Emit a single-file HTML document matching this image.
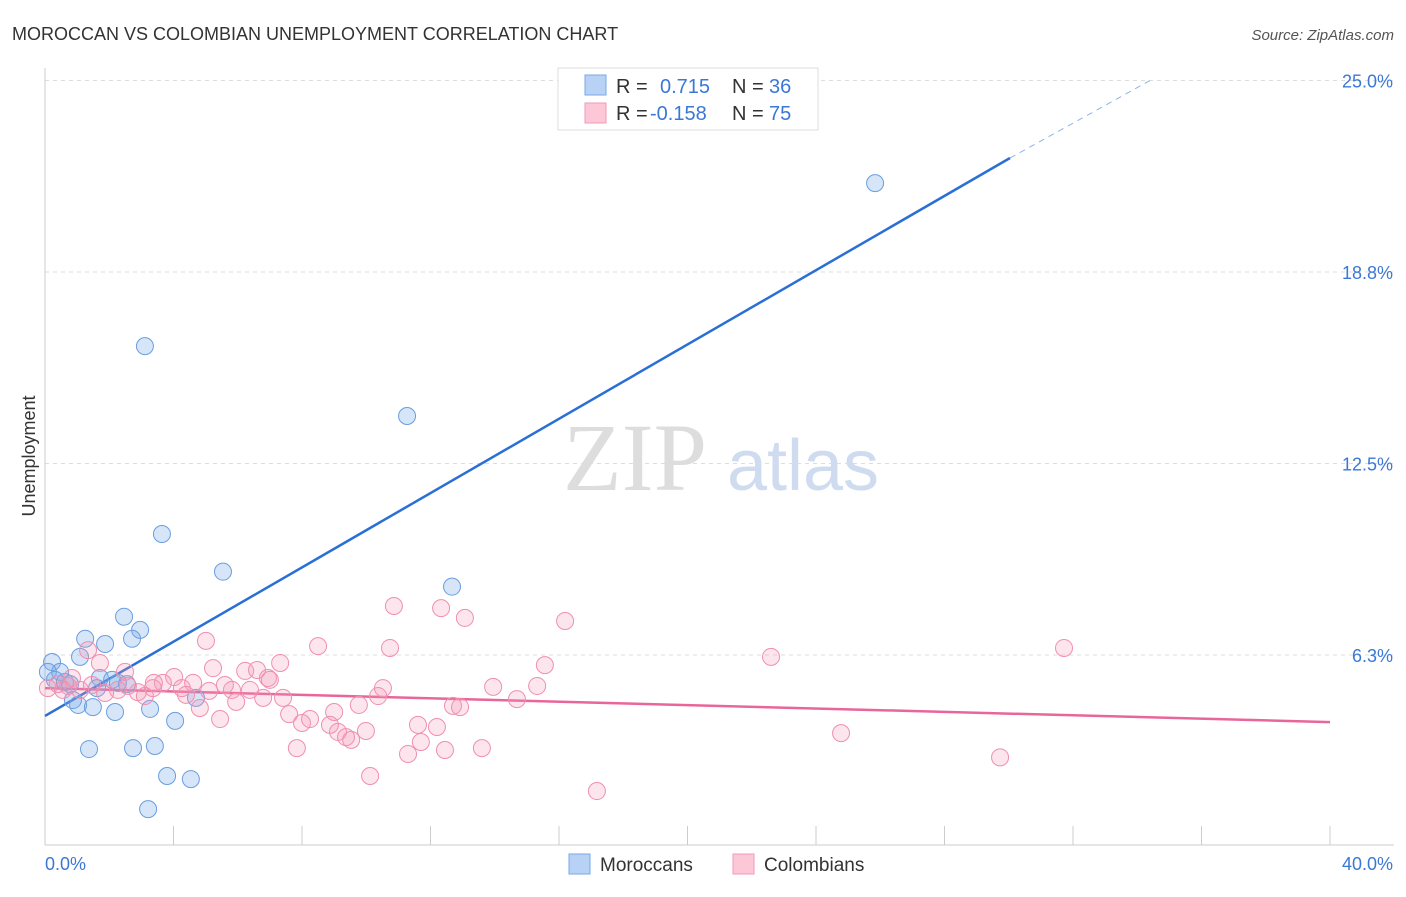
<!DOCTYPE html>
<html><head><meta charset="utf-8">
<style>
body{margin:0;background:#fff;font-family:"Liberation Sans",sans-serif}
svg text{font-family:"Liberation Sans",sans-serif}
</style></head>
<body>
<svg id="chart" width="1406" height="892" xmlns="http://www.w3.org/2000/svg">
<text x="12" y="40" font-size="18" fill="#333">MOROCCAN VS COLOMBIAN UNEMPLOYMENT CORRELATION CHART</text>
<text x="1394" y="40" font-size="15" fill="#555" text-anchor="end" font-style="italic">Source: ZipAtlas.com</text>
<text x="35" y="456" font-size="18" fill="#333" text-anchor="middle" transform="rotate(-90 35 456)">Unemployment</text>
<g>
<text x="635" y="490" font-size="96" fill="#ddd" text-anchor="middle" font-family="Liberation Serif" style="font-family:'Liberation Serif',serif">ZIP</text>
<text x="803" y="490" font-size="72" fill="#cfdcf0" text-anchor="middle">atlas</text>
</g>
<g id="grid"></g><g id="axes"></g><g id="lines"></g><g id="points"></g>
<g>
<rect x="558" y="68" width="260" height="62" fill="#fff" stroke="#ddd"/>
<rect x="585" y="75" width="21" height="20" fill="#b8d2f5" stroke="#7aa8e8"/>
<rect x="585" y="103" width="21" height="20" fill="#fcc8d8" stroke="#f09ab5"/>
<text x="616" y="93" font-size="20" fill="#333">R =</text><text x="660" y="93" font-size="20" fill="#3b78d6">0.715</text>
<text x="732" y="93" font-size="20" fill="#333">N =</text><text x="769" y="93" font-size="20" fill="#3b78d6">36</text>
<text x="616" y="120" font-size="20" fill="#333">R =</text><text x="650" y="120" font-size="20" fill="#3b78d6">-0.158</text>
<text x="732" y="120" font-size="20" fill="#333">N =</text><text x="769" y="120" font-size="20" fill="#3b78d6">75</text>
</g>
<g>
<rect x="569" y="854" width="21" height="20" fill="#b8d2f5" stroke="#7aa8e8"/>
<text x="600" y="871" font-size="19" fill="#333">Moroccans</text>
<rect x="733" y="854" width="21" height="20" fill="#fcc8d8" stroke="#f09ab5"/>
<text x="764" y="871" font-size="19" fill="#333">Colombians</text>
</g>
</svg>
<script>
const yTicks=[6.25,12.5,18.75,25];
const yTickLabels=["6.3%","12.5%","18.8%","25.0%"];
const xTicks=[0,4,8,12,16,20,24,28,32,36,40];
const xEndLabels=["0.0%","40.0%"];
const moroccanX=[25.84,3.11,11.27,3.64,5.54,12.67,2.46,2.96,1.25,2.71,1.87,1.09,0.22,0.47,0.09,0.31,0.62,0.78,1.71,2.09,2.27,2.55,1.62,4.70,0.87,1.03,1.49,2.18,3.27,4.05,1.37,2.74,3.42,3.80,4.54,3.21];
const moroccanY=[21.65,16.33,14.05,10.20,8.97,8.48,7.50,7.07,6.78,6.78,6.61,6.19,6.02,5.70,5.70,5.44,5.37,5.30,5.50,5.44,5.34,5.30,5.17,4.85,4.78,4.62,4.55,4.39,4.49,4.10,3.18,3.21,3.28,2.30,2.20,1.22];
const colombianX=[10.86,12.33,13.07,16.19,5.01,8.50,10.74,31.72,22.60,1.71,1.34,2.49,7.32,15.56,5.23,6.23,6.60,4.02,6.94,3.67,4.61,3.36,4.26,5.60,5.82,5.11,2.27,2.89,3.11,1.87,0.72,1.09,0.40,0.09,10.52,13.95,15.32,10.37,7.41,6.79,5.95,4.82,9.77,12.70,12.92,14.69,7.60,9.00,5.45,8.00,8.25,11.61,12.20,9.12,9.99,9.37,9.53,11.70,7.84,12.45,13.60,11.30,24.78,29.73,10.12,17.18,3.39,0.84,2.58,0.56,1.46,6.38,8.87,7.00,4.39];
const colombianY=[7.85,7.78,7.46,7.36,6.71,6.54,6.48,6.48,6.19,5.99,6.41,5.70,5.99,5.92,5.82,5.73,5.76,5.53,5.50,5.34,5.34,5.17,5.17,5.27,5.11,5.08,5.11,5.04,4.91,5.01,5.24,5.11,5.30,5.17,5.17,5.21,5.24,4.91,4.85,4.85,4.72,4.52,4.62,4.59,4.55,4.81,4.32,4.39,4.16,4.03,4.16,3.97,3.90,3.74,3.77,3.57,3.48,3.41,3.21,3.15,3.21,3.02,3.70,2.91,2.30,1.81,5.34,5.50,5.24,5.11,5.27,5.11,3.97,5.44,4.95];
const moroccanTrend=[4.26,22.47,30.04,25.0,34.4];
const colombianTrend=[5.17,4.06];
const NS="http://www.w3.org/2000/svg";
const X=v=>45+v*32.125, Y=v=>846.5-v*30.64;
function mk(t,a,p){const e=document.createElementNS(NS,t);for(const k in a)e.setAttribute(k,a[k]);p.appendChild(e);return e;}
const grid=document.getElementById('grid'),axes=document.getElementById('axes'),lines=document.getElementById('lines'),pts=document.getElementById('points');
yTicks.forEach((t,i)=>{
 const l=mk('line',{x1:45,x2:1394,y1:Y(t),y2:Y(t),stroke:'#ddd','stroke-dasharray':'4,4'},grid);
 
 
 const tx=mk('text',{x:1393,y:Y(t)+7,'font-size':18,fill:'#3b78d6','text-anchor':'end'},axes);
 tx.textContent=yTickLabels[i];
 
 
});
const ax=mk('line',{x1:45,x2:1394,y1:845,y2:845,stroke:'#ccc'},axes);


const ay=mk('line',{x1:45,x2:45,y1:68,y2:845,stroke:'#ccc'},axes);


xTicks.forEach(t=>{const l=mk('line',{x1:X(t),x2:X(t),y1:826,y2:845,stroke:'#ccc'},axes);
 
 });
const xl0=mk('text',{x:45,y:870,'font-size':18,fill:'#3b78d6'},axes);xl0.textContent=xEndLabels[0];


const xl1=mk('text',{x:1393,y:870,'font-size':18,fill:'#3b78d6','text-anchor':'end'},axes);xl1.textContent=xEndLabels[1];


moroccanX.forEach((x,i)=>{const c=mk('circle',{cx:X(x),cy:Y(moroccanY[i]),r:8.5,fill:'rgba(120,168,232,0.3)',stroke:'#6a9ee0','stroke-width':1},pts);
 
 });
colombianX.forEach((x,i)=>{const c=mk('circle',{cx:X(x),cy:Y(colombianY[i]),r:8.5,fill:'rgba(245,150,180,0.25)',stroke:'#f08fb0','stroke-width':1},pts);
 
 });
const bt=mk('line',{x1:X(0),y1:Y(moroccanTrend[0]),x2:X(moroccanTrend[2]),y2:Y(moroccanTrend[1]),stroke:'#2a6fd6','stroke-width':2.5},lines);


const bd=mk('line',{x1:X(moroccanTrend[2]),y1:Y(moroccanTrend[1]),x2:X(moroccanTrend[4]),y2:Y(moroccanTrend[3]),stroke:'#8fb3e8','stroke-width':1,'stroke-dasharray':'6,5'},lines);


const pt=mk('line',{x1:X(0),y1:Y(colombianTrend[0]),x2:X(40),y2:Y(colombianTrend[1]),stroke:'#e8669a','stroke-width':2.5},lines);


</script>
</body></html>
